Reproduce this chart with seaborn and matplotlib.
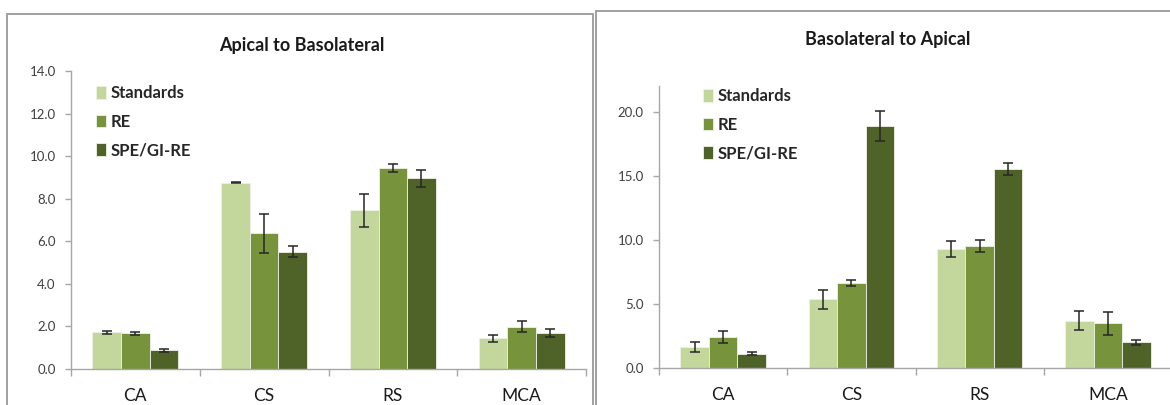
import numpy as np
import pandas as pd
import matplotlib
matplotlib.use("Agg")
import matplotlib.pyplot as plt
from matplotlib.patches import Rectangle
import seaborn as sns

# Permeability by compound and preparation
categories = ["CA", "CS", "RS", "MCA"]
groups = ["Standards", "RE", "SPE/GI-RE"]
colors = ["#C3D69B", "#77933C", "#4F6228"]

# Apical to basolateral
ab_standards = [1.72, 8.76, 7.45, 1.44]
ab_re = [1.67, 6.37, 9.45, 1.99]
ab_spe = [0.89, 5.52, 8.95, 1.67]
ab_standards_err = [0.07, 0.01, 0.78, 0.15]
ab_re_err = [0.06, 0.90, 0.18, 0.25]
ab_spe_err = [0.07, 0.27, 0.39, 0.19]

# Basolateral to apical
ba_standards = [1.64, 5.36, 9.30, 3.70]
ba_re = [2.42, 6.61, 9.53, 3.49]
ba_spe = [1.12, 18.88, 15.49, 2.00]
ba_standards_err = [0.40, 0.72, 0.63, 0.73]
ba_re_err = [0.50, 0.22, 0.47, 0.89]
ba_spe_err = [0.14, 1.17, 0.47, 0.22]

ab_ticks = [0, 2, 4, 6, 8, 10, 12, 14]
ba_ticks = [0, 5, 10, 15, 20]

sns.set_style("white")
plt.rcParams["font.family"] = ["Lato", "DejaVu Sans"]

W, H = 1170, 405
fig = plt.figure(figsize=(W / 100, H / 100), dpi=100)
AXIS = "#A6A6A6"
TEXT = "#1A1A1A"


def long_frame(series):
    rows = []
    for g, vals in zip(groups, series):
        for c, v in zip(categories, vals):
            rows.append({"Category": c, "Group": g, "Value": v})
    return pd.DataFrame(rows)


def draw_panel(rect, series, errs, ymax, yticks, title, title_xy, legend_xy):
    ax = fig.add_axes([rect[0] / W, rect[1] / H, rect[2] / W, rect[3] / H])
    df = long_frame(series)
    sns.barplot(data=df, x="Category", y="Value", hue="Group",
                order=categories, hue_order=groups, palette=colors,
                width=2 / 3, gap=0, saturation=1, errorbar=None,
                edgecolor="#EEF2E6", linewidth=0.6, ax=ax)
    for container, err in zip(ax.containers, errs):
        xs = [p.get_x() + p.get_width() / 2 for p in container]
        hs = [p.get_height() for p in container]
        ax.errorbar(xs, hs, yerr=err, fmt="none", ecolor="#262626",
                    elinewidth=1.1, capsize=3.8, capthick=1.1, zorder=5)

    ax.set_xlim(-0.5, 3.5)
    ax.set_ylim(0, ymax)
    ax.set_yticks(yticks)
    ax.set_yticklabels([f"{t:.1f}" for t in yticks])
    ax.set_xticks([-0.5, 0.5, 1.5, 2.5, 3.5])
    ax.set_xticklabels([])
    ax.set_xticks(range(len(categories)), minor=True)
    ax.set_xticklabels(categories, minor=True)
    ax.set_xlabel("")
    ax.set_ylabel("")
    for s in ("top", "right"):
        ax.spines[s].set_visible(False)
    for s in ("left", "bottom"):
        ax.spines[s].set_color(AXIS)
        ax.spines[s].set_linewidth(1.0)
    ax.tick_params(axis="y", left=True, length=4, width=1, color=AXIS,
                   direction="out", pad=7, labelsize=9.5, labelcolor="#404040")
    ax.tick_params(axis="x", which="major", bottom=True, length=5, width=1,
                   color=AXIS, direction="out")
    ax.tick_params(axis="x", which="minor", bottom=True, length=0, pad=14,
                   labelsize=12.5, labelcolor=TEXT)

    handles, labels = ax.get_legend_handles_labels()
    ax.legend(handles, labels, loc="upper left",
              bbox_to_anchor=(legend_xy[0] / W, 1 - legend_xy[1] / H),
              bbox_transform=fig.transFigure, frameon=False,
              prop={"weight": "bold", "size": 12},
              handlelength=0.6, handleheight=0.8, handletextpad=0.3,
              labelspacing=0.76, borderpad=0, borderaxespad=0)

    fig.text(title_xy[0] / W, 1 - title_xy[1] / H, title, ha="center",
             va="center", fontsize=13, fontweight="bold", color=TEXT)
    return ax


# Panel frames
fig.add_artist(Rectangle((7 / W, -0.1), (593 - 7) / W, 1.1 - 14 / H,
                         transform=fig.transFigure, fill=False,
                         edgecolor="#A0A0A0", linewidth=1.4))
fig.add_artist(Rectangle((596 / W, -0.1), 0.6, 1.1 - 11 / H,
                         transform=fig.transFigure, fill=False,
                         edgecolor="#A0A0A0", linewidth=1.4))

draw_panel((71, H - 369, 515, 298),
           [ab_standards, ab_re, ab_spe],
           [ab_standards_err, ab_re_err, ab_spe_err],
           14, ab_ticks, "Apical to Basolateral", (302, 45), (96, 85))

draw_panel((659, H - 368, 513, 282),
           [ba_standards, ba_re, ba_spe],
           [ba_standards_err, ba_re_err, ba_spe_err],
           22, ba_ticks, "Basolateral to Apical", (888, 40), (703, 88))

fig.savefig("out.png", dpi=100)
